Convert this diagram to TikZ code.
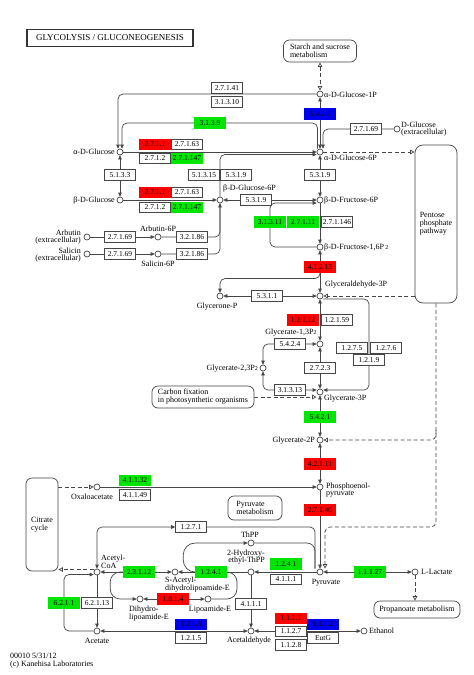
\documentclass[tikz,border=0pt]{standalone}
\usepackage{fontspec}
\setmainfont{Liberation Serif}
\usetikzlibrary{arrows.meta,calc,backgrounds}
\definecolor{kred}{RGB}{255,0,0}
\definecolor{kgreen}{RGB}{0,230,0}
\definecolor{kblue}{RGB}{0,0,240}
\definecolor{lncol}{RGB}{70,70,70}
\tikzset{
  ecbox/.style={draw=lncol, fill=white, line width=0.6pt, minimum width=31pt, minimum height=10.5pt, inner sep=0pt, font=\fontsize{7.5}{8}\selectfont},
  ecred/.style={ecbox, fill=kred, draw=kred},
  ecgrn/.style={ecbox, fill=kgreen, draw=kgreen},
  ecblu/.style={ecbox, fill=kblue, draw=kblue},
  cpd/.style={circle, draw=lncol, fill=white, line width=0.7pt, minimum size=6pt, inner sep=0pt},
  lbl/.style={inner sep=0pt, align=left, font=\fontsize{8}{7.5}\selectfont},
  mapbox/.style={draw=lncol, line width=0.7pt, rounded corners=6pt, fill=white, inner sep=0pt, align=left, font=\fontsize{8}{8}\selectfont},
  ln/.style={draw=lncol, line width=0.7pt},
  dsh/.style={ln, dash pattern=on 4pt off 2.5pt},
  rc/.style={rounded corners=5pt},
  toopen/.style={-{Triangle[open,length=4.5pt,width=4.5pt]}},
  bothopen/.style={{Triangle[open,length=4.5pt,width=4.5pt]}-{Triangle[open,length=4.5pt,width=4.5pt]}}
}
\begin{document}
\begin{tikzpicture}[x=1pt,y=-1pt, >={Triangle[length=4pt,width=3.6pt]}]
\useasboundingbox (0,0) rectangle (474,675);
\begin{scope}[on background layer]
\fill[white] (0,0) rectangle (474,675);
\end{scope}

% title and maps
\node[draw=black!80, line width=1.4pt, minimum width=166pt, minimum height=17pt, inner sep=0pt, font=\fontsize{9}{9}\selectfont] (title) at (110,38) {GLYCOLYSIS / GLUCONEOGENESIS};
\node[mapbox, minimum width=73pt, minimum height=22pt] (starch) at (320,51) {Starch and sucrose\\metabolism};
\node[mapbox, minimum width=42pt, minimum height=158pt, rounded corners=8pt] (pent) at (436,224) {Pentose\\phosphate\\pathway};
\node[mapbox, minimum width=102pt, minimum height=22pt] (cfix) at (203,397) {Carbon fixation\\in photosynthetic organisms};
\node[mapbox, minimum width=32pt, minimum height=93pt] (cit) at (42,524.5) {Citrate\\cycle};
\node[mapbox, minimum width=54pt, minimum height=24pt] (pyrmet) at (255,508) {Pyruvate\\metabolism};
\node[mapbox, minimum width=86pt, minimum height=17pt] (prop) at (417,609.5) {Propanoate metabolism};

% compounds
\node[cpd] (g1p) at (320,94) {};
\node[cpd] (g6p) at (320,152) {};
\node[cpd] (ag) at (120,152) {};
\node[cpd] (bg) at (120,200) {};
\node[cpd] (bg6p) at (220,200) {};
\node[cpd] (f6p) at (320,200) {};
\node[cpd] (fbp) at (320,247) {};
\node[cpd] (gap) at (320,296) {};
\node[cpd] (dhap) at (220,296) {};
\node[cpd] (bpg13) at (320,344) {};
\node[cpd] (bpg23) at (263,368) {};
\node[cpd] (pg3) at (320,392) {};
\node[cpd] (pg2) at (320,440) {};
\node[cpd] (pep) at (320,487) {};
\node[cpd] (pyr) at (320,572) {};
\node[cpd] (lac) at (415,572) {};
\node[cpd] (oaa) at (97,487) {};
\node[cpd] (accoa) at (97,572) {};
\node[cpd] (ace) at (97,631) {};
\node[cpd] (acald) at (251,631) {};
\node[cpd] (etoh) at (364,631) {};
\node[cpd] (heth) at (251,572) {};
\node[cpd] (thpp) at (251,543) {};
\node[cpd] (sacdl) at (175,572) {};
\node[cpd] (dhl) at (140,599) {};
\node[cpd] (lipe) at (208,599) {};
\node[cpd] (arb) at (87,237) {};
\node[cpd] (arb6p) at (158,237) {};
\node[cpd] (sal) at (87,254) {};
\node[cpd] (sal6p) at (158,254) {};
\node[cpd] (dglc) at (397,129) {};

% compound labels
\node[lbl, anchor=west] (l-g1p) at (324,95) {α-D-Glucose-1P};
\node[lbl, anchor=west] (l-g6p) at (324,158) {α-D-Glucose-6P};
\node[lbl, anchor=east] (l-ag) at (115,152) {α-D-Glucose};
\node[lbl, anchor=east] (l-bg) at (115,201) {β-D-Glucose};
\node[lbl, anchor=west] (l-bg6p) at (223,189) {β-D-Glucose-6P};
\node[lbl, anchor=west] (l-f6p) at (324,201) {β-D-Fructose-6P};
\node[lbl, anchor=west] (l-fbp) at (324,248) {β-D-Fructose-1,6P\,{\fontsize{6}{6}\selectfont 2}};
\node[lbl, anchor=west] (l-gap) at (325,285) {Glyceraldehyde-3P};
\node[lbl] (l-dhap) at (217,307) {Glycerone-P};
\node[lbl] (l-bpg13) at (291,333) {Glycerate-1,3P{\fontsize{6}{6}\selectfont 2}};
\node[lbl, anchor=east] (l-bpg23) at (258,369) {Glycerate-2,3P{\fontsize{6}{6}\selectfont 2}};
\node[lbl, anchor=west] (l-pg3) at (324,399) {Glycerate-3P};
\node[lbl, anchor=east] (l-pg2) at (315,441) {Glycerate-2P};
\node[lbl, anchor=west] (l-pep) at (326,490) {Phosphoenol-\\pyruvate};
\node[lbl] (l-oaa) at (92,497) {Oxaloacetate};
\node[lbl] (l-pyr) at (326,583) {Pyruvate};
\node[lbl, anchor=west] (l-lac) at (421,572) {L-Lactate};
\node[lbl, anchor=west] (l-accoa) at (101,562) {Acetyl-\\CoA};
\node[lbl] (l-thpp) at (250,535) {ThPP};
\node[lbl, anchor=east, align=right] (l-heth) at (265,557) {2-Hydroxy-\\ethyl-ThPP};
\node[lbl, anchor=north west] (l-sacdl) at (165,577) {S-Acetyl-\\dihydrolipoamide-E};
\node[lbl, anchor=north west] (l-dhl) at (129,606) {Dihydro-\\lipoamide-E};
\node[lbl] (l-lipe) at (210,610) {Lipoamide-E};
\node[lbl] (l-ace) at (97,641) {Acetate};
\node[lbl] (l-acald) at (249,641) {Acetaldehyde};
\node[lbl, anchor=west] (l-etoh) at (369,631) {Ethanol};
\node[lbl, anchor=east, align=right] (l-arb) at (81,237) {Arbutin\\(extracellular)};
\node[lbl, anchor=east, align=right] (l-sal) at (81,255) {Salicin\\(extracellular)};
\node[lbl] (l-arb6p) at (158,229) {Arbutin-6P};
\node[lbl] (l-sal6p) at (158,264) {Salicin-6P};
\node[lbl, anchor=west] (l-dglc) at (401,129) {D-Glucose\\(extracellular)};
\node[lbl, anchor=north west] (foot) at (10,653) {00010 5/31/12\\(c) Kanehisa Laboratories};

% enzyme boxes
\node[ecbox] (e27141) at (227,88) {2.7.1.41};
\node[ecbox] (e31310) at (227,102) {3.1.3.10};
\node[ecblu] (e5422) at (320,114) {5.4.2.2};
\node[ecgrn] (e3139) at (210,123) {3.1.3.9};
\node[ecbox] (e27169a) at (366,129) {2.7.1.69};
\node[ecred] (e2711a) at (155,144.5) {2.7.1.1};
\node[ecbox] (e27163a) at (187,144.5) {2.7.1.63};
\node[ecbox] (e2712a) at (155,158.5) {2.7.1.2};
\node[ecgrn] (e271147a) at (187,158.5) {2.7.1.147};
\node[ecbox] (e5133) at (120,175) {5.1.3.3};
\node[ecbox] (e51315) at (204,175) {5.1.3.15};
\node[ecbox] (e5319a) at (236,175) {5.3.1.9};
\node[ecbox] (e5319b) at (320,175) {5.3.1.9};
\node[ecred] (e2711b) at (155,192.5) {2.7.1.1};
\node[ecbox] (e27163b) at (187,192.5) {2.7.1.63};
\node[ecbox] (e2712b) at (155,207.5) {2.7.1.2};
\node[ecgrn] (e271147b) at (187,207.5) {2.7.1.147};
\node[ecbox] (e5319c) at (256,200) {5.3.1.9};
\node[ecgrn] (e31311) at (270,222) {3.1.3.11};
\node[ecgrn] (e27111) at (303,222) {2.7.1.11};
\node[ecbox] (e271146) at (337,222) {2.7.1.146};
\node[ecbox] (e27169b) at (120,237) {2.7.1.69};
\node[ecbox] (e32186a) at (192,237) {3.2.1.86};
\node[ecbox] (e27169c) at (120,254) {2.7.1.69};
\node[ecbox] (e32186b) at (192,254) {3.2.1.86};
\node[ecred] (e41213) at (320,267) {4.1.2.13};
\node[ecbox] (e5311) at (267,296) {5.3.1.1};
\node[ecred] (e12112) at (303,320) {1.2.1.12};
\node[ecbox] (e12159) at (337,320) {1.2.1.59};
\node[ecbox] (e5424) at (290,344) {5.4.2.4};
\node[ecbox] (e1275) at (352,348) {1.2.7.5};
\node[ecbox] (e1276) at (386,348) {1.2.7.6};
\node[ecbox] (e1219) at (369,360) {1.2.1.9};
\node[ecbox] (e2723) at (320,368) {2.7.2.3};
\node[ecbox] (e31313) at (290,390) {3.1.3.13};
\node[ecgrn] (e5421) at (320,417) {5.4.2.1};
\node[ecred] (e42111) at (320,464) {4.2.1.11};
\node[ecgrn] (e41132) at (135,480.5) {4.1.1.32};
\node[ecbox] (e41149) at (135,495) {4.1.1.49};
\node[ecred] (e27140) at (320,510) {2.7.1.40};
\node[ecbox] (e1271) at (191,527) {1.2.7.1};
\node[ecgrn] (e1241a) at (286,564) {1.2.4.1};
\node[ecbox] (e4111a) at (286,579.5) {4.1.1.1};
\node[ecgrn] (e11127) at (370,572) {1.1.1.27};
\node[ecgrn] (e23112) at (139,572) {2.3.1.12};
\node[ecgrn] (e1241b) at (211,572) {1.2.4.1};
\node[ecgrn] (e6211) at (64,603) {6.2.1.1};
\node[ecbox] (e62113) at (97,603) {6.2.1.13};
\node[ecred] (e1814) at (173,599) {1.8.1.4};
\node[ecbox] (e4111b) at (251,604) {4.1.1.1};
\node[ecblu] (e1213) at (191,624.5) {1.2.1.3};
\node[ecbox] (e1215) at (191,638) {1.2.1.5};
\node[ecred] (e1111) at (291,618.5) {1.1.1.1};
\node[ecbox] (e1127) at (291,631.5) {1.1.2.7};
\node[ecbox] (e1128) at (291,645) {1.1.2.8};
\node[ecblu] (e1112) at (323,624.5) {1.1.1.2};
\node[ecbox] (eEutG) at (323,638) {EutG};

\coordinate (acd) at ($(accoa.west)+(0,-2.5)$);
\coordinate (pb) at (pent.south |- pg2);

% connectors
\begin{scope}[on background layer]
\draw[dsh, bothopen] (g1p |- starch.south) -- (g1p.north);
\draw[ln,<->] (g1p) -- (g6p);
\draw[ln,->,rc] (g1p.west) -| ([xshift=-2pt]ag.north);
\draw[ln,->,rc] ([xshift=-2.5pt]g6p.north) |- (e3139) -| ([xshift=2pt]ag.north);
\draw[ln,->,rc] (dglc) -| ([xshift=3pt]g6p.north);
\draw[ln,->] (ag) -- (g6p);
\draw[ln,<->] (ag) -- (bg);
\draw[ln,->,rc] (bg6p) |- ([yshift=-2.5pt]g6p.west);
\draw[ln,->] (bg) -- (bg6p);
\draw[ln,<->] (bg6p) -- (f6p);
\draw[ln,<->] (g6p) -- (f6p);
\draw[ln,->] (f6p) -- (fbp);
\draw[ln,->,rc] (fbp) -| (e31311) |- ([yshift=-3pt]f6p.west);
\draw[ln,<->] (fbp) -- (gap);
\draw[ln,->,rc] (e41213.south) -- ++(0,6) -| (dhap);
\draw[ln,<->] (dhap) -- (gap);
\draw[dsh,toopen] (g6p) -- (g6p -| pent.west);
\draw[dsh,toopen] (gap -| pent.west) -- (gap);
\draw[ln,<->] (gap) -- (bpg13);
\draw[ln,->,rc] ([yshift=-3pt]gap.east) -| (e1219) |- ([yshift=2pt]pg3.east);
\draw[ln,<->,rc] (bpg13) -| (bpg23);
\draw[ln,<->,rc] (bpg23) |- ([yshift=2pt]pg3.west);
\draw[ln,<->] (bpg13) -- (pg3);
\draw[dsh,toopen] (cfix.east) -- (cfix.east -| pg3.west);
\draw[ln,<->] (pg3) -- (pg2);
\draw[ln,<->] (pg2) -- (pep);
\draw[ln,->] (pep) -- (pyr);
\draw[ln,->] (oaa) -- (pep);
\draw[dsh,toopen] (cit.east |- oaa) -- (oaa);
\draw[dsh,toopen,rc] (pent.south) -- (pent.south |- e1271) -| ([xshift=5pt]pyr.north);
\draw[dsh,toopen,rc] ($(pb)+(0,-10)$) -- (pb) -- (pg2);
\draw[ln,<->,rc] ([xshift=-5pt]pyr.north) |- (e1271) -| (accoa);
\draw[ln,->,rounded corners=12pt] (e1241b.west) -- ++(-12,0) |- (thpp);
\draw[ln,rounded corners=8pt] (thpp) -| ([xshift=-5pt]pyr.north);
\draw[ln,->] (pyr) -- (heth);
\draw[ln,<->] (pyr) -- (lac);
\draw[dsh,toopen] (lac) -- (lac |- prop.north);
\draw[ln,->] (heth) -- (sacdl);
\draw[ln,<->] (sacdl) -- (accoa);
\draw[ln,->,rounded corners=10pt] (e23112.west) -- ++(-13,0) |- (dhl);
\draw[ln,<->] (dhl) -- (lipe);
\draw[ln,rounded corners=10pt] (lipe) -- ++(29,0) |- (e1241b.east);
\draw[ln,->] (accoa) -- (ace);
\draw[ln,->,rc] (ace) -| (e6211) |- ([yshift=-2.5pt]accoa.west);
\draw[dsh,toopen] (acd) -- (acd -| cit.east);
\draw[ln,<->] (acald) -- (ace);
\draw[ln,->] (heth) -- (acald);
\draw[ln,<->] (acald) -- (etoh);
\draw[ln,->] (arb) -- (arb6p);
\draw[ln,->,rc] (arb6p) -| (bg6p);
\draw[ln,->] (sal) -- (sal6p);
\draw[ln,rc] (sal6p) -| (bg6p);
\end{scope}
\end{tikzpicture}
\end{document}
